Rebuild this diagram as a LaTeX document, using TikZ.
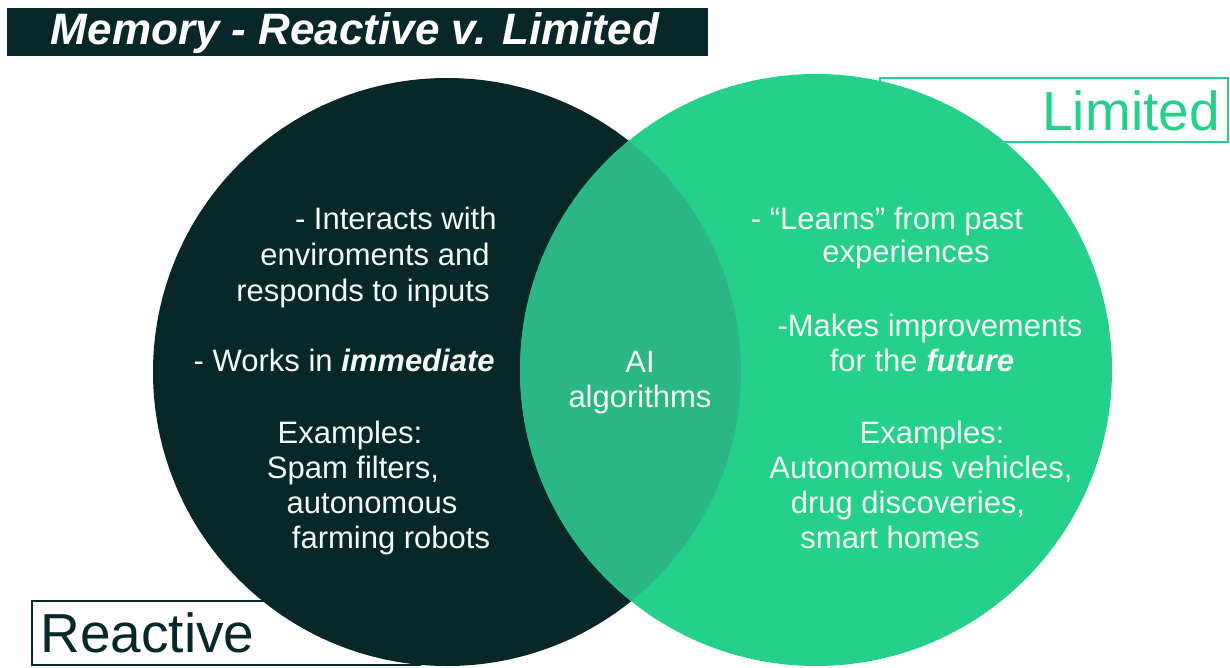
\documentclass[tikz,border=0pt]{standalone}
\usepackage{fontspec}
\setmainfont{Liberation Sans}
\usetikzlibrary{positioning}

\definecolor{reactdark}{HTML}{072729}
\definecolor{limitgreen}{HTML}{25D18A}
\definecolor{lensgreen}{HTML}{2AB685}
\definecolor{softwhite}{HTML}{F2FBF6}

\tikzset{
  titlebar/.style={fill=reactdark, text=white, inner sep=0pt,
    font=\fontsize{22}{24}\selectfont\bfseries\itshape},
  vennline/.style={text=softwhite, inner sep=0pt, anchor=base,
    font=\fontsize{15.5}{18}\selectfont},
  tagframe/.style={line width=1.1pt, fill=white},
  tagword/.style={inner sep=0pt, anchor=base west,
    font=\fontsize{27.5}{32}\selectfont}
}

\begin{document}
\begin{tikzpicture}[x=0.5pt, y=-0.5pt]
  \useasboundingbox (0,0) rectangle (1230,668);

  % heading bar
  \fill[reactdark] (7,8) rectangle (708,56);
  \node[titlebar] (heading) at (355,33) {Memory - Reactive v. Limited};

  % name tags, partly hidden behind the circles
  \draw[tagframe, draw=reactdark] (32,601) rectangle (420,665);
  \node[tagword, text=reactdark] (reactname) at (40,652) {Reactive};
  \draw[tagframe, draw=limitgreen] (880,78) rectangle (1228,142);
  \node[tagword, text=limitgreen] (limitname) at (1042,131) {Limited};

  % the two sets and their overlap
  \fill[reactdark] (447,372) circle[radius=147pt];
  \fill[limitgreen] (816,370) circle[radius=148pt];
  \begin{scope}
    \clip (447,372) circle[radius=147pt];
    \fill[lensgreen] (816,370) circle[radius=148pt];
  \end{scope}

  % reactive side
  \node[vennline, anchor=base east] (ra) at (497,229) {- Interacts with};
  \node[vennline, anchor=base east] (rb) at (490,265) {enviroments and};
  \node[vennline, anchor=base east] (rc) at (490,301) {responds to inputs};
  \node[vennline, anchor=base east] (rd) at (495,371) {- Works in \textbf{\textit{immediate}}};
  \node[vennline] (re) at (350,443) {Examples:};
  \node[vennline] (rf) at (353,478) {Spam filters,};
  \node[vennline] (rg) at (372,513) {autonomous};
  \node[vennline] (rh) at (391,548) {farming robots};

  % shared part
  \node[vennline] (ai) at (640,372) {AI};
  \node[vennline] (algo) at (640,407) {algorithms};

  % limited side
  \node[vennline] (la) at (887,229) {- “Learns” from past};
  \node[vennline] (lb) at (906,263) {experiences};
  \node[vennline] (lc) at (930,336) {-Makes improvements};
  \node[vennline] (ld) at (922,371) {for the \textbf{\textit{future}}};
  \node[vennline] (le) at (932,443) {Examples:};
  \node[vennline] (lf) at (921,478) {Autonomous vehicles,};
  \node[vennline] (lg) at (908,513) {drug discoveries,};
  \node[vennline] (lh) at (890,548) {smart homes};
\end{tikzpicture}
\end{document}
